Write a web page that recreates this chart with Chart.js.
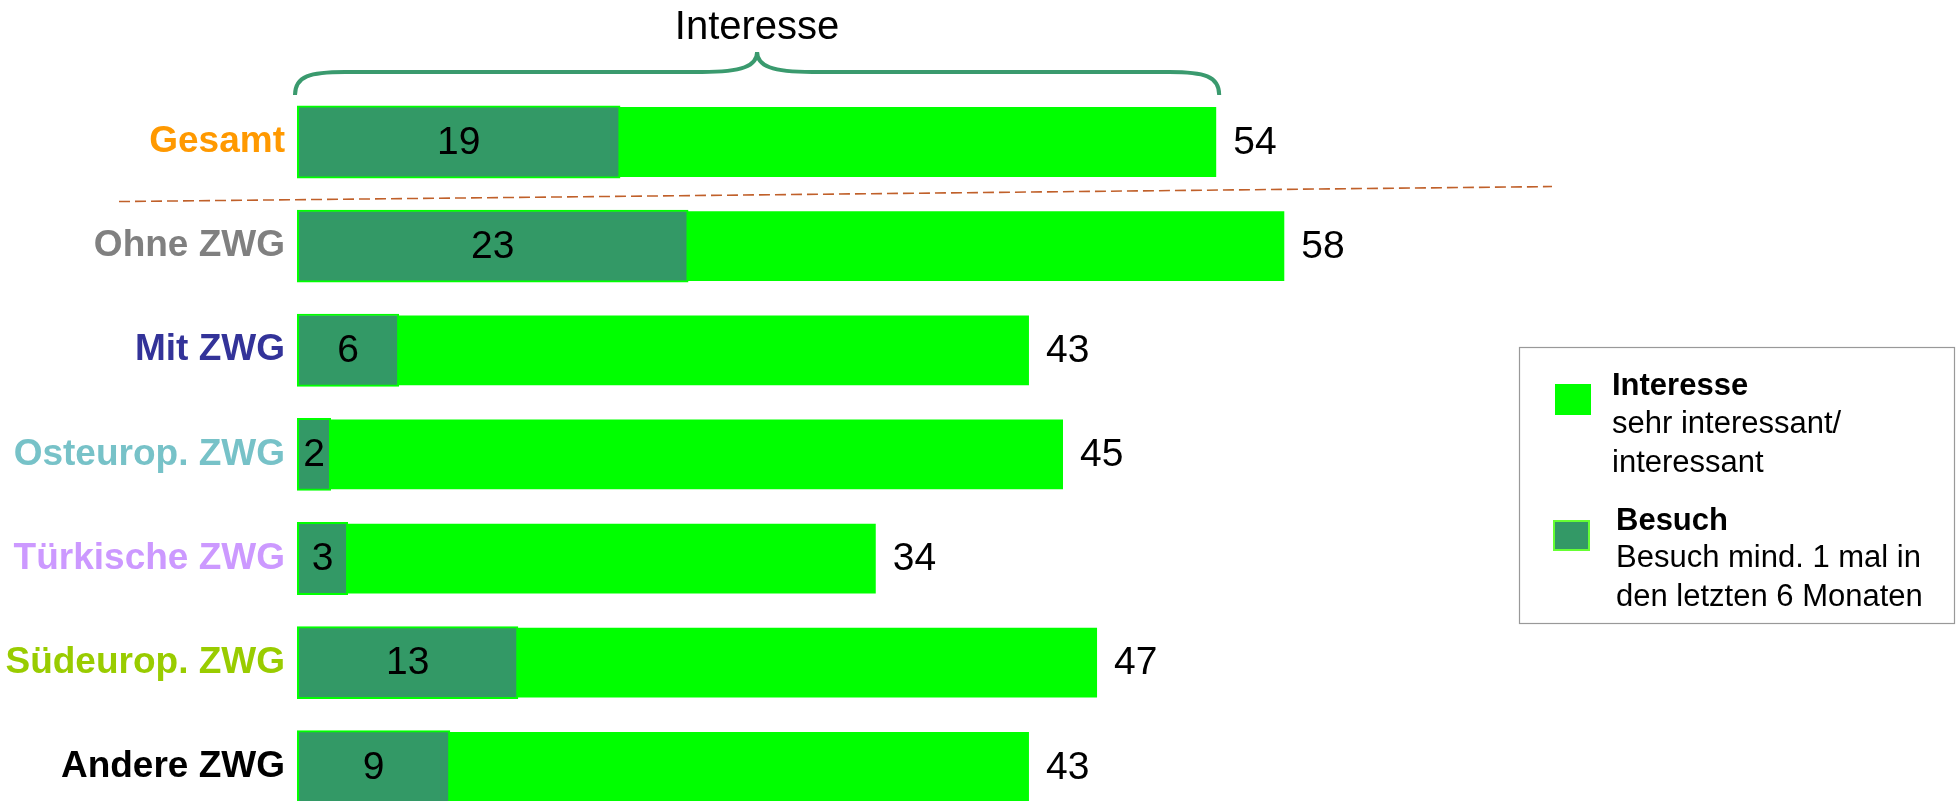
<!DOCTYPE html>
<html>
<head>
<meta charset="utf-8">
<script src="https://cdn.jsdelivr.net/npm/chart.js@4.4.1/dist/chart.umd.min.js"></script>
<style>
  html, body { margin: 0; padding: 0; background: #fff; overflow: hidden; }
  #wrap { width: 1957px; height: 801px; position: relative; }
</style>
</head>
<body>
<div id="wrap"><canvas id="myChart"></canvas></div>
<script>
// Data
const categories = ['Gesamt', 'Ohne ZWG', 'Mit ZWG', 'Osteurop. ZWG', 'Türkische ZWG', 'Südeurop. ZWG', 'Andere ZWG'];
const interesse = [54, 58, 43, 45, 34, 47, 43];
const besuch = [19, 23, 6, 2, 3, 13, 9];
const labelColors = ['#FF9900', '#808080', '#333399', '#77C2C8', '#CC99FF', '#99CC00', '#000000'];

const lime = '#00FF00';
const darkGreen = '#339966';
const fontFamily = '"Liberation Sans", Arial, sans-serif';

// value labels, brace, dashed separator and legend
const decorations = {
  id: 'decorations',
  afterDatasetsDraw: (chart) => {
    const ctx = chart.ctx;
    const xs = chart.scales.x;
    const ys = chart.scales.y;
    const metaB = chart.getDatasetMeta(0);
    const metaI = chart.getDatasetMeta(1);
    ctx.save();
    ctx.fillStyle = '#000';
    ctx.font = '39px ' + fontFamily;
    ctx.textBaseline = 'middle';
    for (let i = 0; i < categories.length; i++) {
      const bi = metaI.data[i];
      ctx.textAlign = 'left';
      ctx.fillText(String(interesse[i]), bi.x + 17, bi.y + 1);
      const bb = metaB.data[i];
      ctx.textAlign = 'center';
      ctx.fillText(String(besuch[i]), (bb.x + bb.base) / 2, bb.y + 1);
    }

    // brace over Gesamt
    const x0 = xs.getPixelForValue(0) - 2;
    const x1 = xs.getPixelForValue(interesse[0]) + 3;
    const mid = (x0 + x1) / 2;
    const tipY = 95, lineY = 72, peakY = 52;
    ctx.strokeStyle = '#3A9A6E';
    ctx.lineWidth = 4;
    ctx.beginPath();
    ctx.moveTo(x0, tipY);
    ctx.bezierCurveTo(x0, lineY + 4, x0 + 15, lineY, x0 + 50, lineY);
    ctx.lineTo(mid - 55, lineY);
    ctx.bezierCurveTo(mid - 15, lineY, mid, lineY - 6, mid, peakY);
    ctx.bezierCurveTo(mid, lineY - 6, mid + 15, lineY, mid + 55, lineY);
    ctx.lineTo(x1 - 50, lineY);
    ctx.bezierCurveTo(x1 - 15, lineY, x1, lineY + 4, x1, tipY);
    ctx.stroke();

    ctx.fillStyle = '#000';
    ctx.font = '40px ' + fontFamily;
    ctx.textAlign = 'center';
    ctx.textBaseline = 'middle';
    ctx.fillText('Interesse', mid, 28);

    // dashed separator
    const sepY = (ys.getPixelForValue(0) + ys.getPixelForValue(1)) / 2;
    ctx.strokeStyle = '#C0602A';
    ctx.lineWidth = 1.6;
    ctx.setLineDash([11, 5]);
    ctx.beginPath();
    ctx.moveTo(119, sepY + 7.5);
    ctx.lineTo(1552, sepY - 7.5);
    ctx.stroke();
    ctx.setLineDash([]);

    // legend
    ctx.strokeStyle = '#999999';
    ctx.lineWidth = 1.2;
    ctx.strokeRect(1519.5, 347.5, 435, 276);
    ctx.fillStyle = lime;
    ctx.fillRect(1555, 384, 36, 31);
    ctx.fillStyle = darkGreen;
    ctx.fillRect(1553, 520, 37, 31);
    ctx.strokeStyle = '#66FF33';
    ctx.lineWidth = 2;
    ctx.strokeRect(1554, 521, 35, 29);

    ctx.fillStyle = '#000';
    ctx.textAlign = 'left';
    ctx.textBaseline = 'alphabetic';
    ctx.font = 'bold 31px ' + fontFamily;
    ctx.fillText('Interesse', 1612, 395);
    ctx.fillText('Besuch', 1616, 530);
    ctx.font = '31px ' + fontFamily;
    ctx.fillText('sehr interessant/', 1612, 433);
    ctx.fillText('interessant', 1612, 472);
    ctx.fillText('Besuch mind. 1 mal in', 1616, 567);
    ctx.fillText('den letzten 6 Monaten', 1616, 606);
    ctx.restore();
  }
};

const ctx = document.getElementById('myChart').getContext('2d');
const chart = new Chart(ctx, {
  type: 'bar',
  data: {
    labels: categories,
    datasets: [
      {
        label: 'Besuch',
        data: besuch,
        backgroundColor: darkGreen,
        borderColor: lime,
        borderWidth: 2,
        borderSkipped: false,
        grouped: false,
        categoryPercentage: 0.7,
        barPercentage: 1,
        clip: false
      },
      {
        label: 'Interesse',
        data: interesse,
        backgroundColor: lime,
        borderWidth: 0,
        grouped: false,
        categoryPercentage: 0.67,
        barPercentage: 1,
        clip: false
      }
    ]
  },
  plugins: [decorations],
  options: {
    indexAxis: 'y',
    responsive: true,
    maintainAspectRatio: false,
    animation: false,
    layout: {
      padding: { top: 142, bottom: 33, left: 0, right: 128 }
    },
    scales: {
      x: {
        display: false,
        min: 0,
        max: 90
      },
      y: {
        offset: false,
        grid: { display: false, drawTicks: false },
        border: { display: false },
        ticks: {
          autoSkip: false,
          padding: 12,
          color: labelColors,
          font: { family: fontFamily, size: 37, weight: 'bold' }
        },
        afterFit: (scale) => { scale.width = 297; }
      }
    },
    plugins: {
      legend: { display: false },
      tooltip: { enabled: false },
      title: { display: false }
    }
  }
});
</script>
</body>
</html>
